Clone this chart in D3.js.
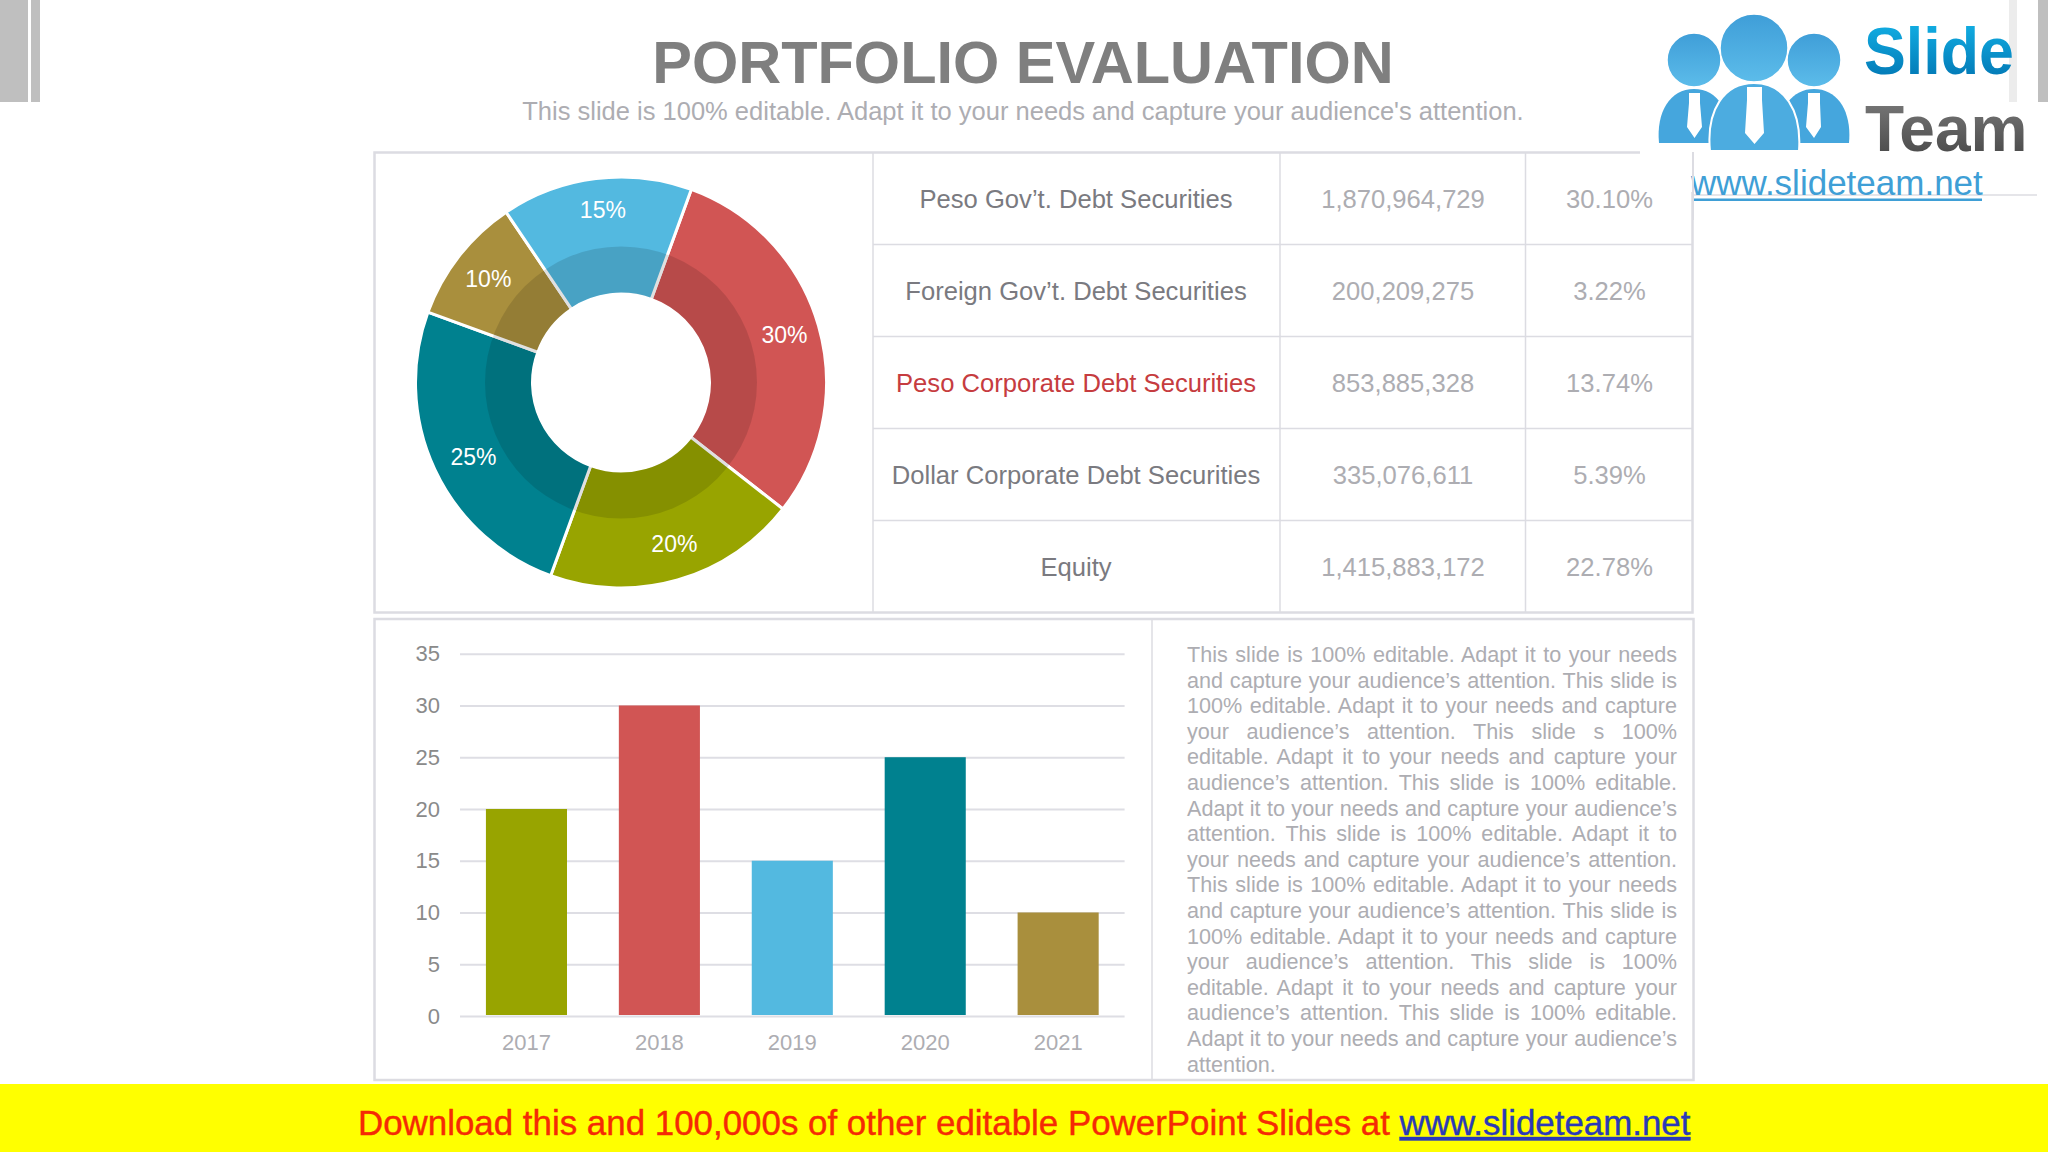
<!DOCTYPE html>
<html>
<head>
    <meta charset="utf-8">
    <title>Portfolio Evaluation</title>
    <script src="https://d3js.org/d3.v7.min.js"></script>
    <style>
        html, body { margin: 0; padding: 0; background: #fff; }
        svg { display: block; font-family: "Liberation Sans", Arial, sans-serif; }
        .axis text { font-family: "Liberation Sans", Arial, sans-serif; font-size: 22px; }
        .axis .domain { display: none; }
    </style>
</head>
<body>
    <svg id="slide" width="2048" height="1152"></svg>
    <script>
        // Chart data
        const donutLabels = ['30%', '20%', '25%', '10%', '15%'];
        const donutValues = [30, 20, 25, 10, 15];
        const donutColors = ['#d15554', '#98a400', '#00818f', '#a98f3d', '#53b9e0'];

        const years = ['2017', '2018', '2019', '2020', '2021'];
        const yearValues = [20, 30, 15, 25, 10];
        const yearColors = ['#98a400', '#d15554', '#53b9e0', '#00818f', '#a98f3d'];
        const yTicks = [0, 5, 10, 15, 20, 25, 30, 35];

        const rowNames = ['Peso Gov’t. Debt Securities', 'Foreign Gov’t. Debt Securities',
            'Peso Corporate Debt Securities', 'Dollar Corporate Debt Securities', 'Equity'];
        const rowAmounts = ['1,870,964,729', '200,209,275', '853,885,328', '335,076,611', '1,415,883,172'];
        const rowShares = ['30.10%', '3.22%', '13.74%', '5.39%', '22.78%'];
        const rowNameColors = ['#7a7a80', '#7a7a80', '#c63c40', '#7a7a80', '#7a7a80'];

        const bodyLines = [
            'This slide is 100% editable. Adapt it to your needs',
            'and capture your audience’s attention. This slide is',
            '100% editable. Adapt it to your needs and capture',
            'your audience’s attention. This slide s 100%',
            'editable. Adapt it to your needs and capture your',
            'audience’s attention. This slide is 100% editable.',
            'Adapt it to your needs and capture your audience’s',
            'attention. This slide is 100% editable. Adapt it to',
            'your needs and capture your audience’s attention.',
            'This slide is 100% editable. Adapt it to your needs',
            'and capture your audience’s attention. This slide is',
            '100% editable. Adapt it to your needs and capture',
            'your audience’s attention. This slide is 100%',
            'editable. Adapt it to your needs and capture your',
            'audience’s attention. This slide is 100% editable.',
            'Adapt it to your needs and capture your audience’s',
            'attention.'
        ];

        const svg = d3.select('#slide');
        const border = '#dcdce2';
        const softText = '#adadb2';

        // Gradients for the logo
        const defs = svg.append('defs');
        function vGradient(id, top, bottom) {
            const g = defs.append('linearGradient').attr('id', id)
                .attr('x1', 0).attr('y1', 0).attr('x2', 0).attr('y2', 1);
            g.append('stop').attr('offset', '0%').attr('stop-color', top);
            g.append('stop').attr('offset', '100%').attr('stop-color', bottom);
        }
        vGradient('slideText', '#14b6ea', '#0070ae');
        vGradient('teamText', '#7d7d7d', '#444444');
        vGradient('head', '#3f9ed8', '#5cbcea');

        // Grey corner bars
        svg.append('rect').attr('x', 0).attr('y', 0).attr('width', 28).attr('height', 102).attr('fill', '#bfbfbf');
        svg.append('rect').attr('x', 31).attr('y', 0).attr('width', 9).attr('height', 102).attr('fill', '#bfbfbf');
        svg.append('rect').attr('x', 2009).attr('y', 0).attr('width', 8).attr('height', 102).attr('fill', '#ececec');
        svg.append('rect').attr('x', 2038).attr('y', 0).attr('width', 10).attr('height', 102).attr('fill', '#bfbfbf');

        // Title
        svg.append('text').attr('x', 1023).attr('y', 83).attr('text-anchor', 'middle')
            .attr('font-size', 59.5).attr('font-weight', 'bold').attr('fill', '#7f7f7f')
            .text('PORTFOLIO EVALUATION');
        svg.append('text').attr('x', 1023).attr('y', 120).attr('text-anchor', 'middle')
            .attr('font-size', 25.5).attr('fill', softText)
            .text('This slide is 100% editable. Adapt it to your needs and capture your audience\'s attention.');

        // Panels
        function line(x1, y1, x2, y2, w) {
            svg.append('line').attr('x1', x1).attr('y1', y1).attr('x2', x2).attr('y2', y2)
                .attr('stroke', border).attr('stroke-width', w);
        }
        svg.append('rect').attr('x', 374.5).attr('y', 152.5).attr('width', 1318).attr('height', 460)
            .attr('fill', 'none').attr('stroke', border).attr('stroke-width', 2.5);
        svg.append('rect').attr('x', 374.5).attr('y', 619).attr('width', 1319).attr('height', 461)
            .attr('fill', 'none').attr('stroke', border).attr('stroke-width', 2.5);
        line(873, 152, 873, 612, 1.5);
        line(1280, 152, 1280, 612, 1.5);
        line(1525.5, 152, 1525.5, 612, 1.5);
        line(1152, 619, 1152, 1080, 1.5);

        // Table
        const rowY = d3.scaleBand().domain(d3.range(rowNames.length)).range([152, 612]);
        rowNames.slice(1).forEach((d, i) => line(873, rowY(i + 1) + 0.5, 1693, rowY(i + 1) + 0.5, 1.5));
        function tableColumn(values, x, color) {
            svg.append('g').selectAll('text').data(values).join('text')
                .attr('x', x)
                .attr('y', (d, i) => rowY(i) + rowY.bandwidth() / 2 + 1.5)
                .attr('dy', '0.35em')
                .attr('text-anchor', 'middle')
                .attr('font-size', 25.6)
                .attr('fill', color)
                .text(d => d);
        }
        tableColumn(rowNames, 1076, (d, i) => rowNameColors[i]);
        tableColumn(rowAmounts, 1403, softText);
        tableColumn(rowShares, 1609.5, softText);

        // Donut
        const pie = d3.pie().sort(null).startAngle(20 * Math.PI / 180).endAngle(380 * Math.PI / 180);
        const arcs = pie(donutValues);
        const sliceArc = d3.arc().innerRadius(88.5).outerRadius(205.5);
        const labelArc = d3.arc().innerRadius(170).outerRadius(170);
        const labelNudge = [[0, -1], [6.5, -2], [6.5, 2.6], [1.3, 1.3], [2.6, -3.5]];
        const donut = svg.append('g').attr('transform', 'translate(621,382.5)');
        donut.selectAll('path.slice').data(arcs).join('path')
            .attr('class', 'slice')
            .attr('d', sliceArc)
            .attr('fill', (d, i) => donutColors[i])
            .attr('stroke', '#fff')
            .attr('stroke-width', 3);
        donut.append('path')
            .attr('d', d3.arc().innerRadius(90).outerRadius(136).startAngle(0).endAngle(2 * Math.PI)())
            .attr('fill', '#000')
            .attr('fill-opacity', 0.12);
        donut.selectAll('text').data(arcs).join('text')
            .attr('transform', (d, i) => {
                const c = labelArc.centroid(d);
                return `translate(${c[0] + labelNudge[i][0]},${c[1] + labelNudge[i][1]})`;
            })
            .attr('dy', '0.35em')
            .attr('text-anchor', 'middle')
            .attr('font-size', 23)
            .attr('fill', '#fff')
            .text((d, i) => donutLabels[i]);

        // Bar chart
        const x = d3.scaleBand().domain(years).range([460, 1124.6]).paddingInner(0.39).paddingOuter(0.195);
        const y = d3.scaleLinear().domain([0, 35]).range([1016, 653.7]);
        const yAxis = svg.append('g').attr('class', 'axis').attr('transform', 'translate(460,0)')
            .call(d3.axisLeft(y).tickValues(yTicks).tickSize(-664.6).tickPadding(20));
        yAxis.selectAll('line').attr('stroke', '#dedee4').attr('stroke-width', 2);
        yAxis.selectAll('text').attr('fill', '#8a8a8a');
        const xAxis = svg.append('g').attr('class', 'axis').attr('transform', 'translate(0,1016)')
            .call(d3.axisBottom(x).tickSize(0).tickPadding(18));
        xAxis.selectAll('text').attr('fill', softText);
        svg.append('g').selectAll('rect').data(years).join('rect')
            .attr('x', d => x(d))
            .attr('y', (d, i) => y(yearValues[i]))
            .attr('width', x.bandwidth())
            .attr('height', (d, i) => y(0) - y(yearValues[i]) - 1)
            .attr('fill', (d, i) => yearColors[i]);

        // Justified paragraph
        const bodyLeft = 1187, bodyRight = 1677, bodyTop = 662, bodyLeading = 25.6;
        const para = svg.append('g').attr('font-size', 21.6).attr('fill', softText);
        bodyLines.forEach((d, i) => {
            const t = para.append('text').attr('x', bodyLeft).attr('y', bodyTop + i * bodyLeading).text(d);
            if (i < bodyLines.length - 1) {
                const spaces = d.split(' ').length - 1;
                const extra = (bodyRight - bodyLeft - t.node().getComputedTextLength()) / spaces;
                t.attr('word-spacing', extra);
            }
        });

        // Download strip
        svg.append('rect').attr('x', 0).attr('y', 1084).attr('width', 2048).attr('height', 68).attr('fill', '#ffff00');
        const strip = svg.append('text').attr('x', 358).attr('y', 1135).attr('font-size', 34.9)
            .attr('stroke-width', 0.4);
        strip.append('tspan').attr('fill', '#f52a05').attr('stroke', '#f52a05')
            .text('Download this and 100,000s of other editable PowerPoint Slides at ');
        strip.append('tspan').attr('fill', '#2a3ab8').attr('stroke', '#2a3ab8')
            .attr('text-decoration', 'underline').text('www.slideteam.net');

        // Logo
        const logo = svg.append('g');
        logo.append('rect').attr('x', 1640).attr('y', 0).attr('width', 368).attr('height', 102).attr('fill', '#fff');
        logo.append('rect').attr('x', 1640).attr('y', 102).attr('width', 397).attr('height', 90).attr('fill', '#fff');
        logo.append('rect').attr('x', 1694).attr('y', 192).attr('width', 343).attr('height', 8).attr('fill', '#fff');
        logo.append('line').attr('x1', 1694).attr('y1', 195).attr('x2', 2037).attr('y2', 195)
            .attr('stroke', border).attr('stroke-width', 1.5);
        line(1693, 152, 1693, 220, 2);

        const blue = '#45a6dd';
        logo.append('path').attr('fill', blue)
            .attr('d', 'M1659,143 C1656,112 1670,89 1694,89 C1718,89 1732,112 1729,143 Z');
        logo.append('path').attr('fill', blue)
            .attr('d', 'M1779,143 C1776,112 1790,89 1814,89 C1838,89 1852,112 1849,143 Z');
        logo.append('path').attr('fill', '#4cace0').attr('stroke', '#fff').attr('stroke-width', 2)
            .attr('d', 'M1710,151 C1706,110 1724,83 1754,83 C1784,83 1802,110 1799,151 Z');
        logo.selectAll('circle').data([[1694, 60, 27], [1814, 60, 27], [1754, 48, 34]]).join('circle')
            .attr('cx', d => d[0]).attr('cy', d => d[1]).attr('r', d => d[2])
            .attr('fill', 'url(#head)').attr('stroke', '#fff').attr('stroke-width', 1.5);
        logo.selectAll('polygon').data([
            '1689,93 1700,93 1700,103 1702,127 1694.5,138 1687,127 1689,103',
            '1747,87 1762,87 1762,100 1764,133 1754.5,144 1745,133 1747,100',
            '1808,93 1820,93 1820,103 1821,127 1814,138 1806,127 1808,103'
        ]).join('polygon').attr('points', d => d).attr('fill', '#fff');
        logo.append('text').attr('x', 1864).attr('y', 74).attr('font-size', 66).attr('font-weight', 'bold')
            .attr('textLength', 150).attr('lengthAdjust', 'spacingAndGlyphs')
            .attr('fill', 'url(#slideText)').text('Slide');
        logo.append('text').attr('x', 1865).attr('y', 151).attr('font-size', 64).attr('font-weight', 'bold')
            .attr('fill', 'url(#teamText)').text('Team');
        logo.append('text').attr('x', 1691).attr('y', 195).attr('font-size', 35)
            .attr('fill', '#3f9fd6').text('www.slideteam.net');
        logo.append('rect').attr('x', 1692).attr('y', 198.5).attr('width', 290).attr('height', 2.5).attr('fill', '#3f9fd6');
    </script>
</body>
</html>
